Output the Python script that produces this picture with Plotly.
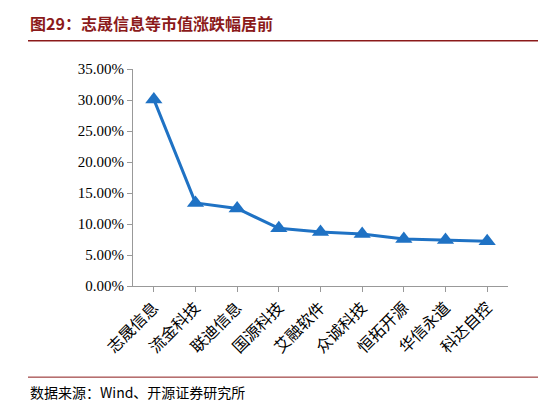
import plotly.graph_objects as go

companies = ["志晟信息", "流金科技", "联迪信息", "国源科技", "艾融软件", "众诚科技", "恒拓开源", "华信永道", "科达自控"]
changes = [30.1, 13.4, 12.5, 9.3, 8.7, 8.4, 7.6, 7.4, 7.2]
yticks = [0, 5, 10, 15, 20, 25, 30, 35]

fig = go.Figure()
fig.add_trace(go.Scatter(
    x=companies, y=changes, mode="lines+markers",
    line=dict(color="#1f72c4", width=3),
    marker=dict(symbol="triangle-up", size=15, color="#1f72c4"),
))

fig.update_layout(
    width=546, height=405, showlegend=False,
    plot_bgcolor="white", paper_bgcolor="white",
    margin=dict(l=125, r=46, t=61, b=127, autoexpand=False),
    font=dict(family="Liberation Serif, Noto Sans CJK SC", size=15, color="black"),
    xaxis=dict(tickangle=-45, showline=True, linecolor="#999", ticks="outside",
               tickcolor="#999", ticklen=5, range=[-0.5, 8.5], automargin=False,
               tickfont=dict(family="Noto Sans CJK SC", size=16)),
    yaxis=dict(range=[0, 35], tickvals=yticks, automargin=False,
               ticktext=["%.2f%%" % v for v in yticks],
               showline=True, linecolor="#999", ticks="outside", tickcolor="#999",
               ticklen=5, showgrid=False, zeroline=False),
    shapes=[
        dict(type="line", xref="paper", yref="paper", x0=-0.28, x1=1.107,
             y0=1.13, y1=1.13, line=dict(color="#8b1a1a", width=1.5)),
        dict(type="line", xref="paper", yref="paper", x0=-0.28, x1=1.107,
             y0=-0.42, y1=-0.42, line=dict(color="#8b1a1a", width=1)),
    ],
    annotations=[
        dict(text="<b>图29：志晟信息等市值涨跌幅居前</b>", xref="paper", yref="paper",
             x=-0.28, y=1.21, xanchor="left", yanchor="middle", showarrow=False,
             font=dict(family="Noto Sans CJK SC", size=16, color="#8b1a1a")),
        dict(text="数据来源：Wind、开源证券研究所", xref="paper", yref="paper",
             x=-0.28, y=-0.49, xanchor="left", yanchor="middle", showarrow=False,
             font=dict(family="Noto Sans CJK SC", size=14, color="black")),
    ],
)

fig.write_html("out.html")
